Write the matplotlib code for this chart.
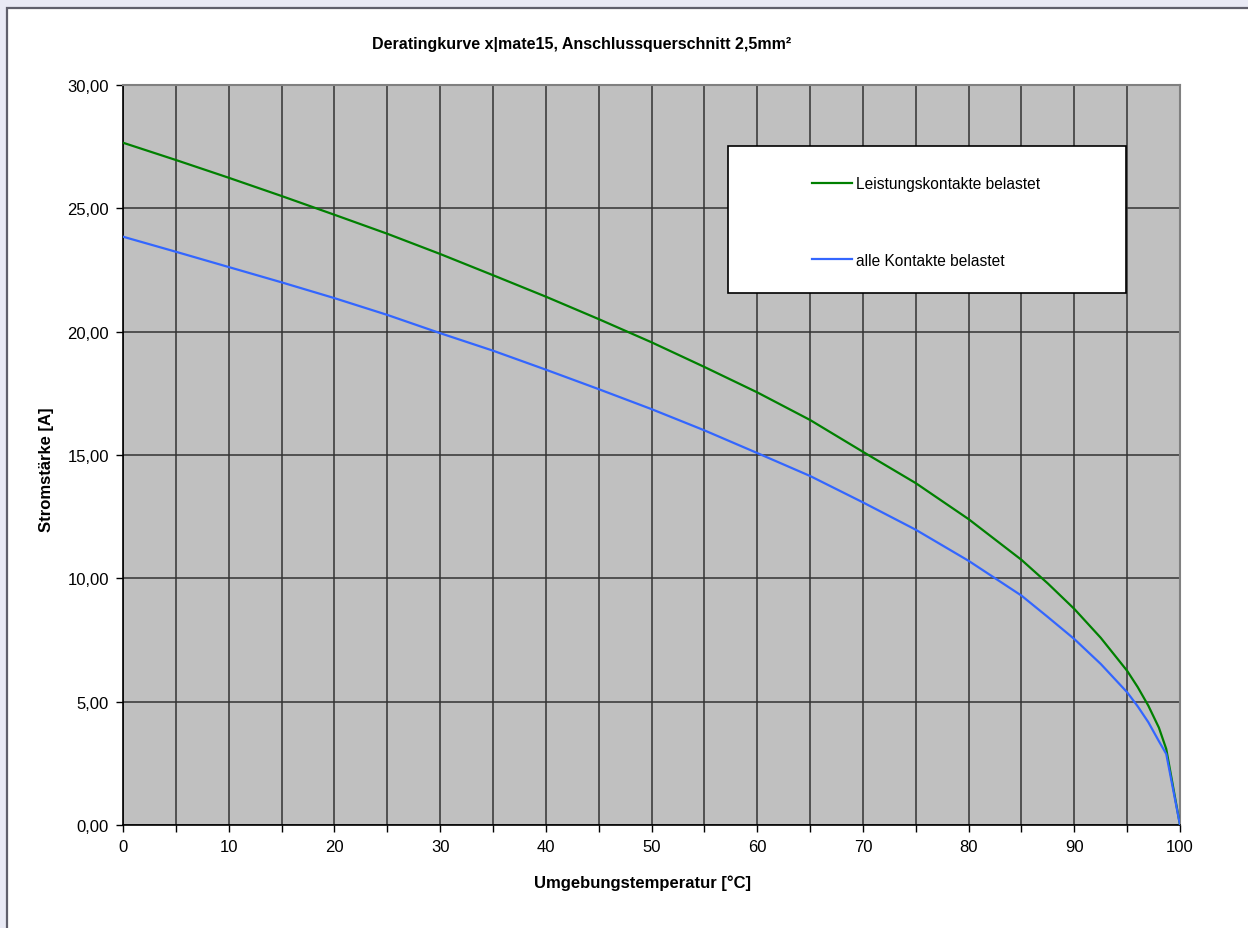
import matplotlib
matplotlib.use("Agg")
import matplotlib.pyplot as plt
from matplotlib.patches import Rectangle
from matplotlib.ticker import MultipleLocator, FuncFormatter

plt.rcParams['font.family'] = ['Liberation Sans', 'DejaVu Sans']

# ---- data ----
temp = [0, 5, 10, 15, 20, 25, 30, 35, 40, 45, 50, 55, 60, 65, 70, 75, 80, 85, 87.5, 90, 92.5,
        95, 96, 97, 98, 98.7, 100]
leistung = [27.66, 26.96, 26.24, 25.50, 24.74, 23.97, 23.15, 22.29, 21.42, 20.51, 19.57, 18.57,
            17.54, 16.42, 15.13, 13.86, 12.40, 10.75, 9.79, 8.76, 7.59,
            6.25, 5.59, 4.84, 3.95, 3.08, 0.0]
alle = [23.85, 23.24, 22.62, 22.00, 21.36, 20.68, 19.94, 19.23, 18.46, 17.67, 16.86, 16.00,
        15.08, 14.15, 13.08, 11.97, 10.71, 9.30, 8.43, 7.54, 6.53,
        5.38, 4.81, 4.17, 3.40, 2.88, 0.0]
series_names = ["Leistungskontakte belastet", "alle Kontakte belastet"]
title = "Deratingkurve x|mate15, Anschlussquerschnitt 2,5mm²"
xlabel = "Umgebungstemperatur [°C]"
ylabel = "Stromstärke [A]"

W, H = 1248, 929
fig = plt.figure(figsize=(W / 100, H / 100), dpi=100)
fig.patch.set_facecolor('#E9EAF5')

# white chart frame
fig.patches.append(Rectangle((7 / W, -0.05), 1.2, 1 - 9 / H + 0.05, transform=fig.transFigure,
                             facecolor='white', edgecolor='#60606C', linewidth=1.6, zorder=-10))

L, R, T, B = 123, 1180, 86, 826
ax = fig.add_axes([L / W, 1 - B / H, (R - L) / W, (B - T) / H])
ax.set_zorder(5)
ax.set_facecolor('#C0C0C0')

ax.plot(temp, leistung, color='#008000', lw=1.6, label=series_names[0], zorder=3)
ax.plot(temp, alle, color='#3366FF', lw=1.6, label=series_names[1], zorder=3)

ax.set_xlim(0, 100)
ax.set_ylim(0, 30)
ax.xaxis.set_major_locator(MultipleLocator(10))
ax.xaxis.set_minor_locator(MultipleLocator(5))
ax.yaxis.set_major_locator(MultipleLocator(5))
ax.yaxis.set_major_formatter(FuncFormatter(lambda v, p: f"{v:.2f}".replace('.', ',')))

ax.grid(True, which='both', axis='x', color='#333333', lw=1.1, zorder=1)
ax.grid(True, which='major', axis='y', color='#333333', lw=1.1, zorder=1)
ax.set_axisbelow(True)

ax.tick_params(axis='both', which='both', direction='out', length=5, width=1, color='black',
               labelsize=12)
ax.tick_params(axis='y', pad=5)
ax.tick_params(axis='x', which='both', pad=5)

for s in ['left', 'bottom']:
    ax.spines[s].set_color('black')
    ax.spines[s].set_linewidth(1.2)
for s in ['top', 'right']:
    ax.spines[s].set_color('#808080')
    ax.spines[s].set_linewidth(1.5)

# legend box
lx0, lx1, ly0, ly1 = 728, 1126, 147, 294
def ax_xy(px, py):
    return (px - L) / (R - L), (B - py) / (B - T)
bx0, by1 = ax_xy(lx0, ly1)
bx1, by0 = ax_xy(lx1, ly0)
ax.add_patch(Rectangle((bx0, by1), bx1 - bx0, by0 - by1, transform=ax.transAxes,
                       facecolor='white', edgecolor='black', lw=1.2, zorder=5))
leg = ax.legend(loc='upper left', bbox_to_anchor=ax_xy(812, 177), frameon=False,
                fontsize=11.2, handlelength=2.6, handletextpad=0.25, labelspacing=3.98,
                borderpad=0, borderaxespad=0)
leg.set_zorder(6)

fig.text(582 / W, 1 - 45 / H, title, ha='center', va='center', fontsize=11.5, fontweight='bold')
fig.text(643 / W, 1 - 883 / H, xlabel, ha='center', va='center', fontsize=12, fontweight='bold')
fig.text(46 / W, 1 - 470 / H, ylabel, ha='center', va='center', fontsize=12, fontweight='bold',
         rotation=90)

fig.savefig('out.png', dpi=100, facecolor=fig.get_facecolor())
